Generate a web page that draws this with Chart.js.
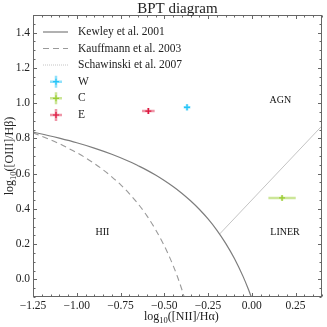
<!DOCTYPE html>
<html><head><meta charset="utf-8">
<script src="https://cdn.jsdelivr.net/npm/chart.js@4.4.1/dist/chart.umd.min.js"></script>
<style>html,body{margin:0;padding:0;background:#fff;}canvas{display:block}</style>
</head><body><canvas id="c" width="327" height="327"></canvas>
<script>
// ---- data ----
const kewleyX = [-1.25,-1.2,-1.1,-1.0,-0.9,-0.8,-0.7,-0.65,-0.6,-0.55,-0.5,-0.45,-0.4,-0.35,-0.3,-0.25,-0.2,-0.15,-0.1,-0.05,-0.02,0.0];
const kewleyY = [0.835,0.825,0.801,0.775,0.745,0.710,0.669,0.645,0.620,0.592,0.561,0.527,0.489,0.446,0.398,0.343,0.280,0.206,0.120,0.017,-0.055,-0.108];
const kauffX = [-1.25,-1.2,-1.15,-1.1,-1.05,-1.0,-0.95,-0.9,-0.85,-0.8,-0.75,-0.7,-0.65,-0.6,-0.55,-0.5,-0.475,-0.45,-0.425,-0.4,-0.38];
const kauffY = [0.831,0.812,0.792,0.770,0.745,0.719,0.690,0.658,0.622,0.582,0.538,0.487,0.429,0.362,0.283,0.191,0.138,0.080,0.016,-0.056,-0.119];
const schawX = [-0.183,0.4];
const schawY = [0.258,0.87];
const galaxyNames = ['W','C','E'];
const galaxyX = [-0.37,0.173,-0.591];
const galaxyY = [0.976,0.462,0.955];
const galaxyXerr = [0.019,0.078,0.036];
const galaxyYerr = [0.018,0.014,0.017];
const lineNames = ['Kewley et al. 2001','Kauffmann et al. 2003','Schawinski et al. 2007'];
const regionNames = ['AGN','HII','LINER'];
const regionX = [0.163,-0.853,0.19];
const regionY = [1.013,0.266,0.266];
const xTicks = [-1.25,-1.0,-0.75,-0.5,-0.25,0.0,0.25];
const xTickLabels = ['\u22121.25','\u22121.00','\u22120.75','\u22120.50','\u22120.25','0.00','0.25'];
const yTicks = [0.0,0.2,0.4,0.6,0.8,1.0,1.2,1.4];
const yTickLabels = ['0.0','0.2','0.4','0.6','0.8','1.0','1.2','1.4'];

// ---- styles ----
const FONT = "'Liberation Serif','DejaVu Serif',serif";
const galaxyColors = ['#22c4f8','#9acd32','#dc143c'];
const galaxyFaint = ['rgba(34,196,248,0.5)','rgba(154,205,50,0.5)','rgba(220,20,60,0.45)'];
const lineColors = ['#7d7d7d','#9a9a9a','#c4c4c4'];
const lineDashes = [[],[6,4],[]];
const legendDashes = [[],[6,4],[1,1]];
const FRAME = '#666';

const toPts = (xs, ys) => xs.map((x,i)=>({x, y: ys[i]}));

const datasets = [
  {label: lineNames[0], data: toPts(kewleyX,kewleyY), showLine:true, pointRadius:0, borderColor:lineColors[0], borderWidth:1.2, borderDash:lineDashes[0], cubicInterpolationMode:'monotone', clip:0},
  {label: lineNames[1], data: toPts(kauffX,kauffY), showLine:true, pointRadius:0, borderColor:lineColors[1], borderWidth:1.1, borderDash:lineDashes[1], cubicInterpolationMode:'monotone', clip:0},
  {label: lineNames[2], data: toPts(schawX,schawY), showLine:true, pointRadius:0, borderColor:lineColors[2], borderWidth:1, borderDash:lineDashes[2], clip:0},
];
galaxyNames.forEach((n,i)=>{
  datasets.push({label:n, data:[{x:galaxyX[i], y:galaxyY[i]}], showLine:false, pointStyle:'cross', pointRadius:3, borderWidth:1.2, borderColor:galaxyColors[i], backgroundColor:galaxyColors[i], clip:false});
});

function drawCross(ctx, cx, cy, x0, x1, y0, y1, i){
  ctx.save();
  ctx.strokeStyle = galaxyFaint[i];
  ctx.lineWidth = 2.5;
  ctx.beginPath();
  ctx.moveTo(x0, cy); ctx.lineTo(x1, cy);
  ctx.moveTo(cx, y0); ctx.lineTo(cx, y1);
  ctx.stroke();
  ctx.restore();
}

function drawMixed(ctx, parts, x, y, align){
  let w = 0;
  parts.forEach(p=>{ ctx.font = p[1]+'px '+FONT; w += ctx.measureText(p[0]).width; });
  let cx = align==='center' ? x - w/2 : x;
  ctx.textAlign = 'left';
  parts.forEach(p=>{ ctx.font = p[1]+'px '+FONT; ctx.fillText(p[0], cx, y + p[2]); cx += ctx.measureText(p[0]).width; });
}

const deco = {
  id:'deco',
  beforeDatasetsDraw(chart){
    const ctx = chart.ctx, xs = chart.scales.x, ys = chart.scales.y;
    galaxyNames.forEach((n,i)=>{
      const cx = xs.getPixelForValue(galaxyX[i]), cy = ys.getPixelForValue(galaxyY[i]);
      drawCross(ctx, cx, cy,
        xs.getPixelForValue(galaxyX[i]-galaxyXerr[i]), xs.getPixelForValue(galaxyX[i]+galaxyXerr[i]),
        ys.getPixelForValue(galaxyY[i]-galaxyYerr[i]), ys.getPixelForValue(galaxyY[i]+galaxyYerr[i]), i);
    });
  },
  afterDraw(chart){
    const ctx = chart.ctx, a = chart.chartArea, xs = chart.scales.x, ys = chart.scales.y;
    ctx.save();
    ctx.fillStyle = '#111';
    ctx.font = '10px '+FONT;
    ctx.textAlign='center'; ctx.textBaseline='middle';
    regionNames.forEach((t,i)=>ctx.fillText(t, xs.getPixelForValue(regionX[i]), ys.getPixelForValue(regionY[i])));
    ctx.strokeStyle = FRAME; ctx.lineWidth = 1;
    ctx.strokeRect(Math.round(a.left)+0.5, Math.round(a.top)+0.5, Math.round(a.right-a.left)-1, Math.round(a.bottom-a.top)-1);
    const L = Math.round(a.left)+0.5, R = Math.round(a.right)-0.5, T = Math.round(a.top)+0.5, B = Math.round(a.bottom)-0.5;
    ctx.beginPath();
    const xMin = xs.min, xMax = xs.max, yMin = ys.min, yMax = ys.max;
    for (let k = -25; k <= 8; k++){
      const v = k*0.05; if (v < xMin-1e-9 || v > xMax+1e-9) continue;
      const major = xTicks.some(t=>Math.abs(t-v)<1e-6);
      const len = major ? 3.5 : 2;
      const px = Math.round(xs.getPixelForValue(v))+0.5;
      ctx.moveTo(px, B); ctx.lineTo(px, B-len);
      ctx.moveTo(px, T); ctx.lineTo(px, T+len);
    }
    for (let k = -2; k <= 30; k++){
      const v = k*0.05; if (v < yMin-1e-9 || v > yMax+1e-9) continue;
      const major = yTicks.some(t=>Math.abs(t-v)<1e-6);
      const len = major ? 3.5 : 2;
      const py = Math.round(ys.getPixelForValue(v))+0.5;
      ctx.moveTo(L, py); ctx.lineTo(L+len, py);
      ctx.moveTo(R, py); ctx.lineTo(R-len, py);
    }
    ctx.stroke();
    ctx.fillStyle = '#222';
    ctx.font = '11.5px '+FONT;
    ctx.textAlign='center'; ctx.textBaseline='middle';
    xTicks.forEach((v,i)=>ctx.fillText(xTickLabels[i], xs.getPixelForValue(v), a.bottom+9));
    ctx.textAlign='right';
    yTicks.forEach((v,i)=>ctx.fillText(yTickLabels[i], a.left-3, ys.getPixelForValue(v)));
    ctx.fillStyle='#222';
    ctx.font = '15px '+FONT; ctx.textAlign='center'; ctx.textBaseline='alphabetic';
    ctx.fillText('BPT diagram', (a.left+a.right)/2, 12.5);
    ctx.textBaseline='alphabetic';
    drawMixed(ctx, [['log',12,0],['10',8.5,3],['([NII]/H\u03b1)',12,0]], (a.left+a.right)/2+4, 320, 'center');
    ctx.save();
    ctx.translate(13, (a.top+a.bottom)/2);
    ctx.rotate(-Math.PI/2);
    drawMixed(ctx, [['log',12,0],['10',8.5,3],['([OIII]/H\u03b2)',12,0]], 0, 0, 'center');
    ctx.restore();
    const lx0 = 43, lx1 = 68, tx = 78, rows = [32,48.5,65,81.7,98.3,115];
    ctx.font = '11.5px '+FONT; ctx.textAlign='left'; ctx.textBaseline='middle';
    lineNames.forEach((n,i)=>{
      ctx.save(); ctx.strokeStyle=lineColors[i]; ctx.lineWidth = i===2?1:1.2; ctx.setLineDash(legendDashes[i]);
      ctx.beginPath(); ctx.moveTo(lx0, rows[i]); ctx.lineTo(lx1, rows[i]); ctx.stroke(); ctx.restore();
      ctx.fillStyle='#222'; ctx.fillText(n, tx, rows[i]);
    });
    galaxyNames.forEach((n,i)=>{
      const cx = 56, cy = rows[3+i];
      drawCross(ctx, cx, cy, cx-6, cx+6, cy-6, cy+6, i);
      ctx.save(); ctx.strokeStyle = galaxyColors[i]; ctx.lineWidth=1.2; ctx.beginPath();
      ctx.moveTo(cx-3,cy); ctx.lineTo(cx+3,cy); ctx.moveTo(cx,cy-3); ctx.lineTo(cx,cy+3); ctx.stroke(); ctx.restore();
      ctx.fillStyle='#222'; ctx.fillText(n, tx, cy);
    });
    ctx.restore();
  }
};

new Chart(document.getElementById('c'), {
  type:'scatter',
  data:{datasets},
  options:{
    responsive:false, animation:false, devicePixelRatio:1,
    layout:{padding:{left:33, right:3, top:15, bottom:30}},
    scales:{
      x:{type:'linear', min:-1.25, max:0.4, display:false},
      y:{type:'linear', min:-0.1, max:1.5, display:false}
    },
    plugins:{legend:{display:false}, tooltip:{enabled:false}, title:{display:false}}
  },
  plugins:[deco]
});
</script>
</body></html>
